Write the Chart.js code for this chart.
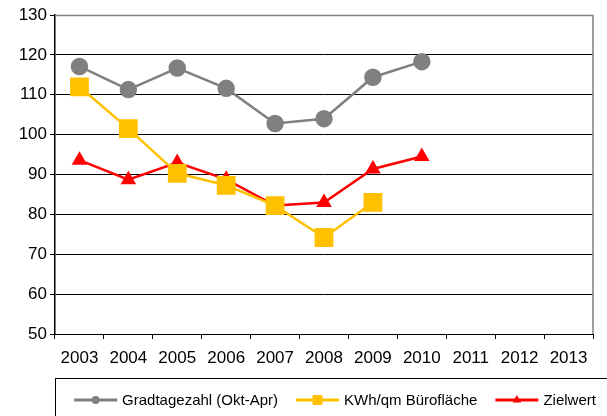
<!DOCTYPE html>
<html>
<head>
<meta charset="utf-8">
<script src="https://cdn.jsdelivr.net/npm/chart.js@4/dist/chart.umd.min.js"></script>
<style>
  html, body { margin: 0; padding: 0; background: #fff; }
  #wrap { width: 607px; height: 416px; }
</style>
</head>
<body>
<div id="wrap"><canvas id="chart" width="607" height="416"></canvas></div>
<script>
const years = ["2003", "2004", "2005", "2006", "2007", "2008", "2009", "2010", "2011", "2012", "2013"];
const gradtage = [117.1, 111.3, 116.7, 111.6, 102.8, 104.0, 114.4, 118.3, null, null, null];
const kwhBuero = [112.0, 101.5, 90.3, 87.3, 82.2, 74.2, 83.0, null, null, null, null];
const zielwert = [93.6, 88.7, 93.0, 88.8, 82.2, 83.0, 91.4, 94.5, null, null, null];
const yMin = 50, yMax = 130, yStep = 10;

const font = "'Liberation Sans', Arial, sans-serif";

// plot border (top/right), legend frame and legend entries
const frame = {
  id: 'frame',
  afterDraw(chart) {
    const { ctx, chartArea: a } = chart;
    ctx.save();
    ctx.strokeStyle = '#808080';
    ctx.lineWidth = 1.5;
    ctx.beginPath();
    ctx.moveTo(a.left, a.top + 0.5);
    ctx.lineTo(a.right, a.top + 0.5);
    ctx.lineTo(a.right, a.bottom);
    ctx.stroke();

    ctx.strokeStyle = '#000';
    ctx.lineWidth = 1;
    ctx.strokeRect(a.left + 0.5, 378.5, 620, 60);

    const lineLen = 43, gap = 5, itemGap = 18, y = 400;
    ctx.font = '15px ' + font;
    const items = chart.data.datasets.map(ds => ({ ds, w: ctx.measureText(ds.label).width }));
    const total = items.reduce((s, it) => s + lineLen + gap + it.w, 0) + itemGap * (items.length - 1);
    let x = 335 - total / 2;
    items.forEach(({ ds, w }) => {
      ctx.strokeStyle = ds.borderColor;
      ctx.fillStyle = ds.borderColor;
      ctx.lineWidth = 3;
      ctx.beginPath();
      ctx.moveTo(x, y);
      ctx.lineTo(x + lineLen, y);
      ctx.stroke();
      Chart.helpers.drawPoint(ctx, { pointStyle: ds.pointStyle, radius: ds.legendRadius, borderWidth: 0 }, x + lineLen / 2, y);
      ctx.fillStyle = '#000';
      ctx.textBaseline = 'middle';
      ctx.textAlign = 'left';
      ctx.fillText(ds.label, x + lineLen + gap, y + 1);
      x += lineLen + gap + w + itemGap;
    });
    ctx.restore();
  }
};

new Chart(document.getElementById('chart'), {
  type: 'line',
  data: {
    labels: years,
    datasets: [
      { label: 'Gradtagezahl (Okt-Apr)', data: gradtage, borderColor: '#808080', backgroundColor: '#808080',
        borderWidth: 2.5, pointStyle: 'circle', pointRadius: 7.5, legendRadius: 4 },
      { label: 'KWh/qm Bürofläche', data: kwhBuero, borderColor: '#FFC000', backgroundColor: '#FFC000',
        borderWidth: 2.5, pointStyle: 'rect', pointRadius: 11.5, legendRadius: 7 },
      { label: 'Zielwert', data: zielwert, borderColor: '#FF0000', backgroundColor: '#FF0000',
        borderWidth: 2.5, pointStyle: 'triangle', pointRadius: 6.5, legendRadius: 5 }
    ]
  },
  options: {
    responsive: false,
    animation: false,
    devicePixelRatio: 1,
    layout: { padding: { top: 15, right: 3, left: 0, bottom: 41 } },
    elements: { line: { tension: 0 }, point: { borderWidth: 0, hoverRadius: 8 } },
    scales: {
      x: {
        offset: true,
        afterFit(scale) { scale.height = 41; },
        grid: { offset: true, drawOnChartArea: false, drawTicks: true, tickLength: 5, color: '#000' },
        border: { color: '#000', width: 1 },
        ticks: { color: '#000', padding: 9, maxRotation: 0, autoSkip: false, font: { family: font, size: 17 } }
      },
      y: {
        min: yMin,
        max: yMax,
        afterFit(scale) { scale.width = 55; },
        grid: { color: '#000', lineWidth: 1, tickLength: 5, drawTicks: true },
        border: { color: '#000', width: 1.5 },
        ticks: { stepSize: yStep, color: '#000', padding: 3, font: { family: font, size: 17 } }
      }
    },
    plugins: {
      tooltip: { enabled: false },
      legend: { display: false }
    }
  },
  plugins: [frame]
});
</script>
</body>
</html>
